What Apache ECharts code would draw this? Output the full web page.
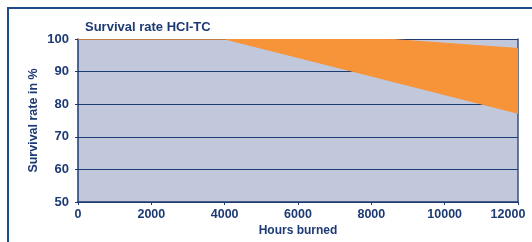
<!DOCTYPE html>
<html>
<head>
<meta charset="utf-8">
<script src="https://cdn.jsdelivr.net/npm/echarts@6/dist/echarts.min.js"></script>
<style>
html,body{margin:0;padding:0;background:#fff;}
#main{width:532px;height:242px;}
</style>
</head>
<body>
<div id="main"></div>
<script>
// hours burned (x positions of the read points)
var hours = [0, 4000, 8400, 12000];
// lower edge of the orange band (survival rate, %)
var rateLow = [100, 100, 87.5, 77.2];
// upper edge of the orange band (survival rate, %)
var rateHigh = [100, 100, 100, 97.1];
var xTicks = [0, 2000, 4000, 6000, 8000, 10000, 12000];
var yTicks = [50, 60, 70, 80, 90, 100];

var navy = '#1c3a73';
var font = '"Liberation Sans", Arial, sans-serif';

var bandData = [];
for (var i = 0; i < hours.length; i++) {
	bandData.push([hours[i], rateLow[i], rateHigh[i]]);
}

// orange band between the two edges, drawn once as a polygon
function renderBand(params, api) {
	if (params.dataIndex != 0) return;
	var pts = [];
	for (var i = 0; i < hours.length; i++) {
		pts.push(api.coord([hours[i], rateHigh[i]]));
	}
	for (var j = hours.length - 1; j >= 0; j--) {
		pts.push(api.coord([hours[j], rateLow[j]]));
	}
	return {
		type: 'polygon',
		shape: {points: pts},
		style: {fill: '#f7943a', stroke: '#f7943a', lineWidth: 1}
	};
}

var myChart = echarts.init(document.getElementById('main'));
var option = {
	animation: false,
	title: {
		text: 'Survival rate HCI-TC',
		left: 80,
		top: 16,
		textStyle: {fontFamily: font, fontSize: 13, fontWeight: 'bold', color: navy}
	},
	graphic: [{
		type: 'rect',
		shape: {x: 8, y: 8, width: 700, height: 400},
		style: {fill: 'none', stroke: '#1e4a8a', lineWidth: 2}
	}],
	grid: {
		left: 78, right: 14, top: 39, bottom: 40,
		outerBoundsMode: 'none',
		containLabel: false,
		show: true, backgroundColor: '#c1c8dc', borderWidth: 0
	},
	xAxis: {
		type: 'value',
		min: xTicks[0], max: xTicks[xTicks.length - 1], interval: 2000,
		name: 'Hours burned',
		nameLocation: 'middle',
		nameGap: 23,
		nameMoveOverlap: false,
		nameTextStyle: {fontFamily: font, fontSize: 12, fontWeight: 'bold', color: navy},
		axisLine: {lineStyle: {color: navy, width: 1.5}},
		axisTick: {show: true, length: 3, lineStyle: {color: navy}},
		axisLabel: {fontFamily: font, fontSize: 12.5, fontWeight: 'bold', color: navy, margin: 6,
			formatter: function(v){
				// last label is pushed left in the original so it stays inside the frame
				if (v == xTicks[xTicks.length - 1]) return '{last|' + v + '}';
				return '' + v;
			},
			rich: {last: {fontFamily: font, fontSize: 12.5, fontWeight: 'bold', color: navy, padding: [0, 20, 0, 0]}}
		},
		splitLine: {show: false}
	},
	yAxis: [{
		type: 'value',
		min: yTicks[0], max: yTicks[yTicks.length - 1], interval: 10,
		name: 'Survival rate in %',
		nameLocation: 'middle',
		nameGap: 38,
		nameMoveOverlap: false,
		nameTextStyle: {fontFamily: font, fontSize: 12.5, fontWeight: 'bold', color: navy},
		axisLine: {show: true, lineStyle: {color: navy, width: 1.5}},
		axisTick: {show: true, length: 3, lineStyle: {color: navy}},
		axisLabel: {fontFamily: font, fontSize: 13, fontWeight: 'bold', color: navy, margin: 9},
		splitLine: {show: true, lineStyle: {color: navy, width: 1.2}}
	}, {
		type: 'value',
		position: 'right',
		min: yTicks[0], max: yTicks[yTicks.length - 1],
		axisLine: {show: true, lineStyle: {color: '#3a4f75', width: 1.5}},
		axisTick: {show: false},
		axisLabel: {show: false},
		splitLine: {show: false}
	}],
	series: [{
		name: 'band',
		type: 'custom',
		renderItem: renderBand,
		data: bandData,
		encode: {x: 0, y: [1, 2]},
		clip: true
	}]
};
myChart.setOption(option);
</script>
</body>
</html>
